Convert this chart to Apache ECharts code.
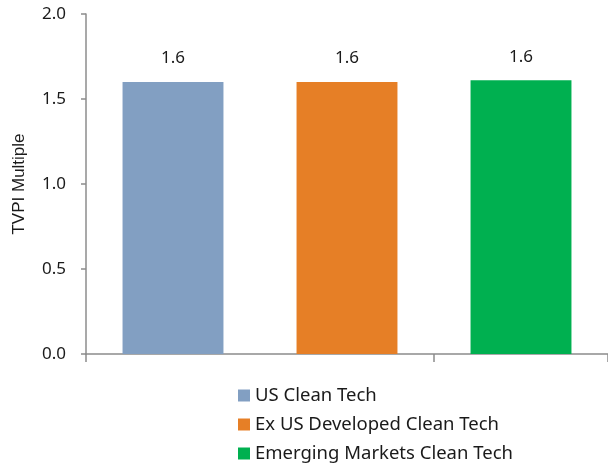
<!DOCTYPE html>
<html>
<head>
<meta charset="utf-8">
<script src="https://cdn.jsdelivr.net/npm/echarts@6/dist/echarts.min.js"></script>
<style>html,body{margin:0;padding:0;background:#fff;}#c{width:608px;height:466px;}</style>
</head>
<body>
<div id="c"></div>
<script>
const categories = ['US Clean Tech', 'Ex US Developed Clean Tech', 'Emerging Markets Clean Tech'];
const values = [1.6, 1.6, 1.61];
const colors = ['#829fc2', '#e67f26', '#00b050'];
const yTicks = [0, 0.5, 1.0, 1.5, 2.0];

const chart = echarts.init(document.getElementById('c'));
const series = categories.map((name, i) => ({
  name: name,
  type: 'bar',
  barWidth: '58%',
  barGap: '-100%',
  itemStyle: { color: colors[i] },
  label: {
    show: true, position: 'top', distance: 15,
    fontFamily: 'Noto Sans', fontSize: 17, color: '#1a1a1a',
    formatter: p => p.value.toFixed(1)
  },
  data: categories.map((c, j) => j === i ? values[i] : '-')
}));

chart.setOption({
  animation: false,
  grid: { left: 86, right: 0, top: 14, bottom: 112 },
  legend: {
    orient: 'vertical', left: 238, top: 386, padding: 0, height: 80,
    itemWidth: 12, itemHeight: 12, itemGap: 10,
    icon: 'rect',
    textStyle: { fontFamily: 'Noto Sans', fontSize: 18.5, color: '#1a1a1a' },
    data: categories
  },
  xAxis: {
    type: 'category', data: categories,
    axisLine: { lineStyle: { color: '#8c8c8c', width: 1.5 } },
    axisTick: { show: true, length: 8, lineStyle: { color: '#8c8c8c', width: 1.5 } },
    axisLabel: { show: false }
  },
  yAxis: {
    type: 'value', min: yTicks[0], max: yTicks[yTicks.length - 1], interval: 0.5,
    name: 'TVPI Multiple', nameLocation: 'middle', nameGap: 58, nameRotate: 90,
    nameTextStyle: { fontFamily: 'Liberation Sans', fontSize: 17, color: '#1a1a1a' },
    axisLine: { show: true, lineStyle: { color: '#8c8c8c', width: 1.5 } },
    axisTick: { show: true, length: 5, lineStyle: { color: '#8c8c8c', width: 1.5 } },
    splitLine: { show: false },
    axisLabel: { margin: 20, fontFamily: 'Noto Sans', fontSize: 17, color: '#1a1a1a', formatter: v => v.toFixed(1) }
  },
  series: series
});
</script>
</body>
</html>
